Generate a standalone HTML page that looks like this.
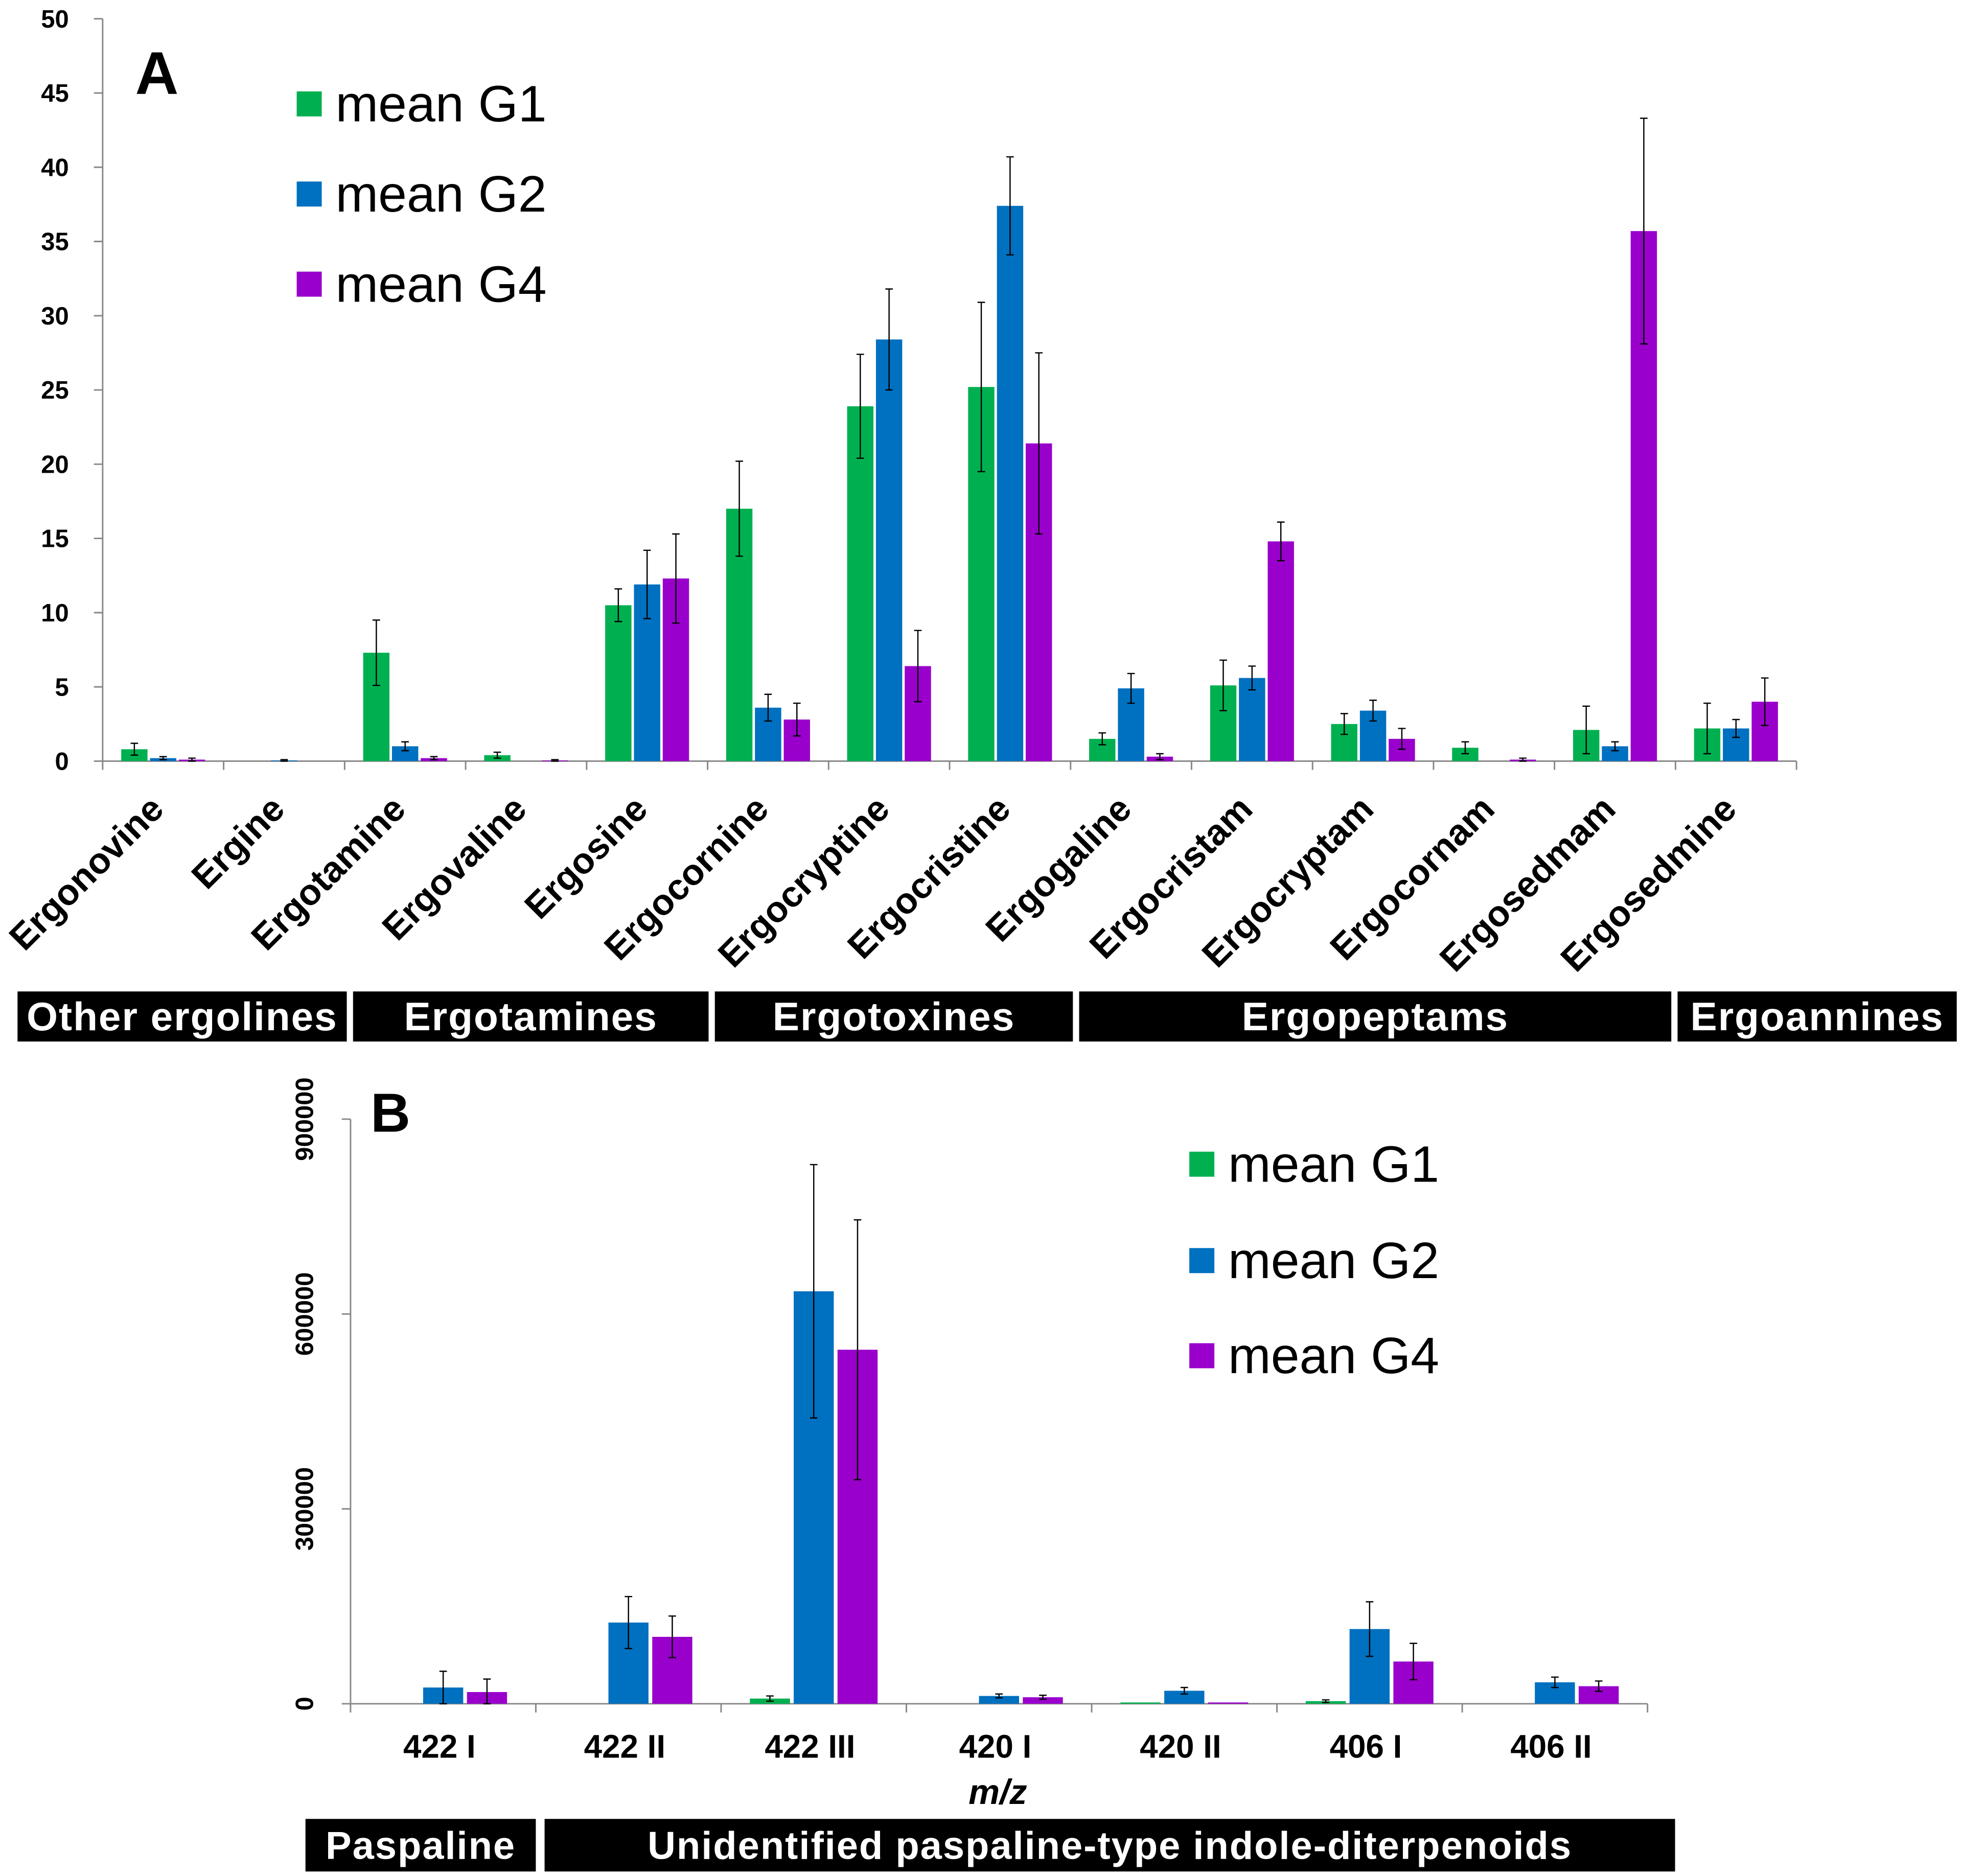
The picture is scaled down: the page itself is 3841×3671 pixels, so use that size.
<!DOCTYPE html>
<html><head><meta charset="utf-8"><style>html,body{margin:0;padding:0;background:#fff}svg{display:block}text{font-family:"Liberation Sans",Arial,sans-serif;font-weight:bold}</style></head>
<body>
<svg id="chart" width="3841" height="3671" viewBox="0 0 1568 1498.6" preserveAspectRatio="none" xmlns="http://www.w3.org/2000/svg">
<g id="pa"></g>
<g id="pb"></g>
</svg>
<script>
// Panel A data
const catsA = ["Ergonovine","Ergine","Ergotamine","Ergovaline","Ergosine","Ergocornine","Ergocryptine","Ergocristine","Ergogaline","Ergocristam","Ergocryptam","Ergocornam","Ergosedmam","Ergosedmine"];
const g1A = [0.8,0,7.3,0.4,10.5,17.0,23.9,25.2,1.5,5.1,2.5,0.9,2.1,2.2];
const g1AErr = [0.4,0,2.2,0.2,1.1,3.2,3.5,5.7,0.4,1.7,0.7,0.4,1.6,1.7];
const g2A = [0.2,0.05,1.0,0,11.9,3.6,28.4,37.4,4.9,5.6,3.4,0,1.0,2.2];
const g2AErr = [0.1,0.05,0.3,0,2.3,0.9,3.4,3.3,1.0,0.8,0.7,0,0.3,0.6];
const g4A = [0.1,0,0.2,0.05,12.3,2.8,6.4,21.4,0.3,14.8,1.5,0.1,35.7,4.0];
const g4AErr = [0.1,0,0.1,0.05,3.0,1.1,2.4,6.1,0.2,1.3,0.7,0.1,7.6,1.6];
const ticksA = [0,5,10,15,20,25,30,35,40,45,50];
// Panel B data
const catsB = ["422 I","422 II","422 III","420 I","420 II","406 I","406 II"];
const g1B = [0,0,8000,0,2000,4000,0];
const g1BErr = [0,0,4000,0,0,2000,0];
const g2B = [25000,125000,635000,12000,20000,115000,33000];
const g2BErr = [25000,40000,195000,3000,5000,42000,8000];
const g4B = [18000,103000,545000,10000,2000,65000,27000];
const g4BErr = [20000,32000,200000,3000,0,28000,8000];
const ticksB = [0,300000,600000,900000];
const seriesNames = ["mean G1","mean G2","mean G4"];
const colors = ["#00b050","#0070c0","#9900cc"];

const NS="http://www.w3.org/2000/svg";
function mk(parent,tag,attrs,txt){const e=document.createElementNS(NS,tag);for(const k in attrs)e.setAttribute(k,attrs[k]);if(txt!==undefined)e.textContent=txt;parent.appendChild(e);return e;}

function drawPanel(g,opt){
  const {cats,series,errs,ticks,x0,x1,y0,yTop,vmax,bw,step,tickFmt,rotY,rotX}=opt;
  const y=v=>y0-(v/vmax)*(y0-yTop);
  const cw=(x1-x0)/cats.length;
  const ax=mk(g,'line',{x1:x0,y1:yTop,x2:x0,y2:y0,stroke:'#888','stroke-width':1.2});
  
  const xa=mk(g,'line',{x1:x0,y1:y0,x2:x1,y2:y0,stroke:'#888','stroke-width':1.2});
  
  ticks.forEach(t=>{
    const ty=y(t);
    mk(g,'line',{x1:x0-7,y1:ty,x2:x0,y2:ty,stroke:'#888','stroke-width':1.2});
    let lab;
    if(rotY){lab=mk(g,'text',{x:0,y:0,'font-size':20,'text-anchor':'middle',transform:`translate(${x0-30},${ty}) rotate(-90)`},tickFmt(t));}
    else{lab=mk(g,'text',{x:x0-27,y:ty+7,'font-size':20,'text-anchor':'end'},tickFmt(t));}
    
  });
  for(let i=0;i<=cats.length;i++){const tx=x0+i*cw;mk(g,'line',{x1:tx,y1:y0,x2:tx,y2:y0+7,stroke:'#888','stroke-width':1.2});}
  cats.forEach((c,i)=>{
    const cx=x0+(i+0.5)*cw;
    series.forEach((s,k)=>{
      const bx=cx+(k-1)*step;
      const v=s[i];
      const r=mk(g,'rect',{x:bx-bw/2,y:y(v),width:bw,height:Math.max(0,y0-y(v)),fill:colors[k]});
      
      
      const e=errs[k][i];
      if(e>0){
        const p=mk(g,'path',{d:`M${bx},${y(v+e)}V${y(Math.max(0,v-e))}M${bx-3},${y(v+e)}H${bx+3}M${bx-3},${y(Math.max(0,v-e))}H${bx+3}`,stroke:'#000','stroke-width':1,fill:'none'});
        
        
      }
    });
    let t;
    if(rotX){t=mk(g,'text',{x:0,y:0,'font-size':29,'text-anchor':'end',transform:`translate(${cx+2},${y0+40}) rotate(-45)`},c);}
    else{t=mk(g,'text',{x:cx-3,y:y0+43,'font-size':26,'text-anchor':'middle'},c);}
    
    
  });
}
function legend(g,x,ys){
  seriesNames.forEach((n,k)=>{
    const r=mk(g,'rect',{x:x,y:ys[k]-10,width:20,height:20,fill:colors[k]});
    
    const t=mk(g,'text',{x:x+31,y:ys[k]+14,'font-size':41,style:'font-weight:normal'},n);
    
  });
}
function box(g,x0,x1,y0,y1,txt,fs){
  const r=mk(g,'rect',{x:x0,y:y0,width:x1-x0,height:y1-y0,fill:'#000'});
  
  const t=mk(g,'text',{x:(x0+x1)/2,y:(y0+y1)/2+11,'font-size':fs,'text-anchor':'middle',fill:'#fff','letter-spacing':0.8},txt);
  
}
const pa=document.getElementById('pa'),pb=document.getElementById('pb');
drawPanel(pa,{cats:catsA,series:[g1A,g2A,g4A],errs:[g1AErr,g2AErr,g4AErr],ticks:ticksA,x0:82,x1:1435,y0:608,yTop:15,vmax:50,bw:21,step:23,tickFmt:t=>String(t),rotY:false,rotX:true});
drawPanel(pb,{cats:catsB,series:[g1B,g2B,g4B],errs:[g1BErr,g2BErr,g4BErr],ticks:ticksB,x0:280,x1:1316,y0:1361,yTop:894,vmax:900000,bw:32,step:35,tickFmt:t=>String(t),rotY:true,rotX:false});
legend(pa,237,[83,155,227]);
legend(pb,950,[930,1007,1083]);
let la=mk(pa,'text',{x:108,y:75,'font-size':48},'A');
let lb=mk(pb,'text',{x:296,y:904,'font-size':44},'B');
let mz=mk(pb,'text',{x:797,y:1441,'font-size':28,'text-anchor':'middle','font-style':'italic'},'m/z');
[[14,277,'Other ergolines'],[282,566,'Ergotamines'],[571,857,'Ergotoxines'],[862,1335,'Ergopeptams'],[1340,1563,'Ergoannines']].forEach(b=>box(pa,b[0],b[1],792,832,b[2],32));
[[244,428,'Paspaline'],[435,1338,'Unidentified paspaline-type indole-diterpenoids']].forEach(b=>box(pb,b[0],b[1],1453,1495,b[2],31));
</script>
</body></html>
